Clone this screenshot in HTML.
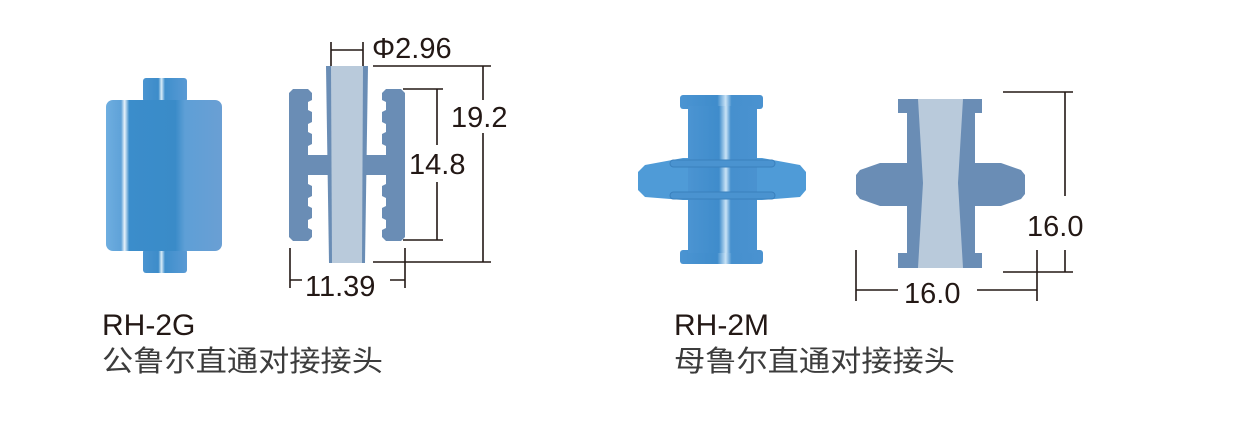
<!DOCTYPE html>
<html><head><meta charset="utf-8"><style>
html,body{margin:0;padding:0;background:#fff;}
svg{display:block}
text{font-family:"Liberation Sans","Noto Sans CJK SC",sans-serif;}
</style></head><body>
<svg width="1251" height="439" viewBox="0 0 1251 439" xmlns="http://www.w3.org/2000/svg">
<defs>
<linearGradient id="gb" x1="0" x2="1" y1="0" y2="0">
<stop offset="0" stop-color="#6eaee0"/><stop offset="0.13" stop-color="#5fa2d8"/>
<stop offset="0.16" stop-color="#e8f3fb"/><stop offset="0.2" stop-color="#3b8dcb"/>
<stop offset="0.6" stop-color="#3a8bc8"/><stop offset="0.68" stop-color="#5e9fd6"/>
<stop offset="1" stop-color="#6a9fd4"/></linearGradient>
<linearGradient id="gn" x1="0" x2="1" y1="0" y2="0">
<stop offset="0" stop-color="#4a94d0"/><stop offset="0.35" stop-color="#3d8cc9"/>
<stop offset="0.42" stop-color="#d8ecf8"/><stop offset="0.5" stop-color="#3f8fcc"/>
<stop offset="1" stop-color="#5a9ad4"/></linearGradient>
<linearGradient id="gm" x1="0" x2="1" y1="0" y2="0">
<stop offset="0" stop-color="#4b94d2"/><stop offset="0.45" stop-color="#3f8ccb"/>
<stop offset="0.55" stop-color="#c9e3f6"/><stop offset="0.62" stop-color="#4690ce"/>
<stop offset="1" stop-color="#4a92d0"/></linearGradient>
</defs>

<!-- RH-2G 3D -->
<rect x="143" y="78" width="44" height="24" rx="3" fill="url(#gn)"/>
<rect x="143" y="249" width="44" height="24" rx="3" fill="url(#gn)"/>
<rect x="106" y="100" width="116" height="151" rx="7" fill="url(#gb)"/>

<!-- RH-2G section -->
<g fill="#6a8db5">
<path d="M326 66 L368 66 L365 263 L329 263 Z"/>
<rect x="312" y="155" width="70" height="20"/>
<path d="M293 89 L308 89 L312 93 L312 100 L308 102 L308 110 L312 112 L312 122 L308 124 L308 132 L312 134 L312 144 L308 146 L308 155 L312 155 L312 175 L308 175 L308 184 L312 186 L312 196 L308 198 L308 206 L312 208 L312 218 L308 220 L308 228 L312 230 L312 237 L308 241 L293 241 L289 237 L289 93 Z"/>
<path d="M401 89 L386 89 L382 93 L382 100 L386 102 L386 110 L382 112 L382 122 L386 124 L386 132 L382 134 L382 144 L386 146 L386 155 L382 155 L382 175 L386 175 L386 184 L382 186 L382 196 L386 198 L386 206 L382 208 L382 218 L386 220 L386 228 L382 230 L382 237 L386 241 L401 241 L405 237 L405 93 Z"/>
</g>
<path d="M331 66 L363 66 L362 263 L332 263 Z" fill="#b9cadb"/>

<g stroke="#231815" stroke-width="1.6" fill="none">
<path d="M331 42 V66 M363 42 V66 M331 50 H363"/>
<path d="M373 66 H491 M373 262 H491 M483 66 V100 M483 133 V262"/>
<path d="M403 89 H443 M403 240 H443 M437 89 V145 M437 182 V240"/>
<path d="M290 248 V288 M405 248 V288 M290 280 H302 M390 280 H405"/>
</g>
<g fill="#231815" font-size="29">
<text x="372" y="58">Φ2.96</text>
<text x="451" y="127">19.2</text>
<text x="409" y="174">14.8</text>
<text x="305" y="296">11.39</text>
</g>

<!-- RH-2M 3D -->
<path d="M645 165 L683 158 L762 158 L800 165 L806 172 L806 190 L800 197 L762 200 L683 200 L645 197 L638 190 L638 172 Z" fill="#4f9bd7"/>
<rect x="680" y="95" width="83" height="14" rx="3" fill="url(#gm)"/>
<rect x="680" y="250" width="83" height="14" rx="3" fill="url(#gm)"/>
<rect x="688" y="106" width="69" height="147" fill="url(#gm)"/>
<rect x="670" y="160" width="105" height="7" rx="3.5" fill="#4a93d0" stroke="#3a80bd" stroke-width="1"/>
<rect x="670" y="192" width="105" height="7" rx="3.5" fill="#4a93d0" stroke="#3a80bd" stroke-width="1"/>

<!-- RH-2M section -->
<g fill="#6a8db5">
<path d="M898 99 H982 V113 H975 V253 H982 V268 H898 V253 H907 V113 H898 Z"/>
<path d="M907 163 L880 163 L860 170 L856 175 L856 194 L860 199 L880 206 L907 206 Z"/>
<path d="M975 163 L1001 163 L1021 170 L1025 175 L1025 194 L1021 199 L1001 206 L975 206 Z"/>
</g>
<path d="M918 99 L963 99 L958 183 L963 268 L918 268 L923 183 Z" fill="#b9cadb"/>

<g stroke="#231815" stroke-width="1.6" fill="none">
<path d="M1003 92 H1073 M1003 272 H1073 M1065 92 V196 M1065 250 V272"/>
<path d="M856 250 V301 M1037 250 V301 M856 290 H898 M977 290 H1037"/>
</g>
<g fill="#231815" font-size="29">
<text x="1027" y="236">16.0</text>
<text x="904" y="303">16.0</text>
</g>

<!-- labels -->
<g fill="#231815">
<text x="102" y="335" font-size="30">RH-2G</text>
<text x="102" y="371" font-size="29" fill="#3c3c3c" textLength="281" lengthAdjust="spacingAndGlyphs">公鲁尔直通对接接头</text>
<text x="674" y="335" font-size="30">RH-2M</text>
<text x="674" y="371" font-size="29" fill="#3c3c3c" textLength="281" lengthAdjust="spacingAndGlyphs">母鲁尔直通对接接头</text>
</g>
</svg>
</body></html>
